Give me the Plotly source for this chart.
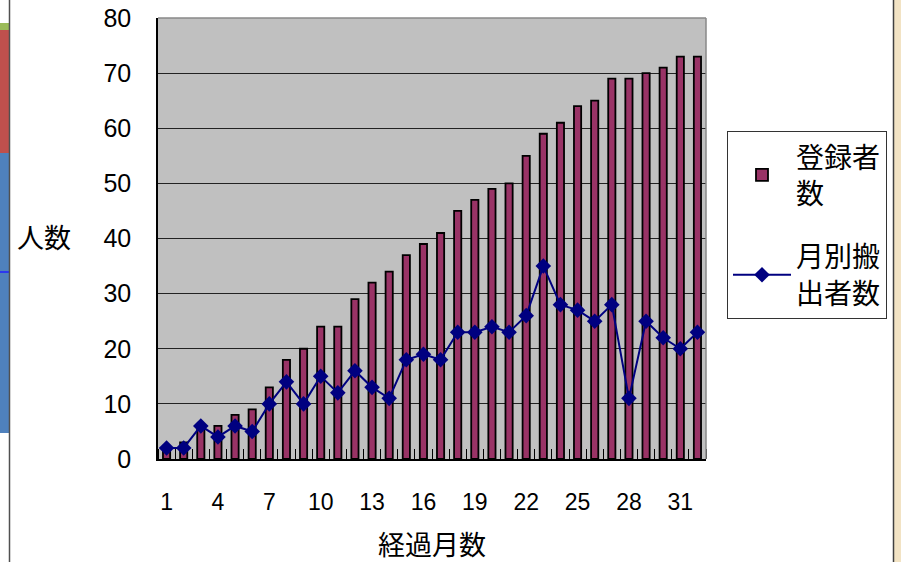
import plotly.graph_objects as go

# ---- data ----
months = list(range(1, 33))
registered = [2, 3, 6, 6, 8, 9, 13, 18, 20, 24, 24, 29, 32, 34, 37, 39,
              41, 45, 47, 49, 50, 55, 59, 61, 64, 65, 69, 69, 70, 71, 73, 73]
monthly_out = [2, 2, 6, 4, 6, 5, 10, 14, 10, 15, 12, 16, 13, 11, 18, 19,
               18, 23, 23, 24, 23, 26, 35, 28, 27, 25, 28, 11, 25, 22, 20, 23]
x_tick_labels = [1, 4, 7, 10, 13, 16, 19, 22, 25, 28, 31]
y_ticks = [0, 10, 20, 30, 40, 50, 60, 70, 80]
series_names = ["登録者<br>数", "月別搬<br>出者数"]

W, H = 901, 562
L, R, T, B = 158, 706, 18, 459
FONT = "Liberation Sans, Noto Sans CJK JP, sans-serif"

def px(x):
    return (x - L) / (R - L)

def py(y):
    return (B - y) / (B - T)

fig = go.Figure()
fig.add_trace(go.Bar(
    x=months, y=registered, name=series_names[0], width=0.42, legendgroup="a",
    marker=dict(color="#993366", line=dict(color="#000000", width=1.8)),
))
fig.add_trace(go.Scatter(
    x=months, y=monthly_out, name=series_names[1], mode="lines+markers", legendgroup="b",
    line=dict(color="#000080", width=2),
    marker=dict(symbol="diamond", size=12, color="#000080"),
))

shapes = []
# background decorations (slide remnants)
shapes.append(dict(type="rect", xref="paper", yref="paper", x0=px(0), x1=px(9),
                   y0=py(30), y1=py(23), fillcolor="#9BBB59", line=dict(width=0), layer="below"))
shapes.append(dict(type="rect", xref="paper", yref="paper", x0=px(0), x1=px(9),
                   y0=py(153), y1=py(30), fillcolor="#C0504D", line=dict(width=0), layer="below"))
shapes.append(dict(type="rect", xref="paper", yref="paper", x0=px(0), x1=px(9),
                   y0=py(433), y1=py(153), fillcolor="#4F81BD", line=dict(width=0), layer="below"))
shapes.append(dict(type="line", xref="paper", yref="paper", x0=px(0), x1=px(9),
                   y0=py(272), y1=py(272), line=dict(color="#2020FF", width=1.5), layer="below"))
shapes.append(dict(type="line", xref="paper", yref="paper", x0=px(9.5), x1=px(9.5),
                   y0=py(0), y1=py(562), line=dict(color="#505050", width=1.5), layer="below"))
shapes.append(dict(type="rect", xref="paper", yref="paper", x0=px(894), x1=px(901),
                   y0=py(562), y1=py(0), fillcolor="#F2E3C4", line=dict(width=0), layer="below"))
shapes.append(dict(type="line", xref="paper", yref="paper", x0=px(893.5), x1=px(893.5),
                   y0=py(0), y1=py(562), line=dict(color="#404040", width=1.5), layer="below"))
# plot border top/right
shapes.append(dict(type="line", xref="paper", yref="paper", x0=0, x1=1, y0=1, y1=1,
                   line=dict(color="#888888", width=1.5)))
shapes.append(dict(type="line", xref="paper", yref="paper", x0=1, x1=1, y0=0, y1=1,
                   line=dict(color="#888888", width=1.5)))

fig.update_layout(
    width=W, height=H,
    margin=dict(l=L, r=W - R, t=T, b=H - B, autoexpand=False),
    paper_bgcolor="white", plot_bgcolor="#C0C0C0",
    font=dict(family=FONT, size=24, color="#000000"),
    shapes=shapes,
    showlegend=True,
    legend=dict(
        xref="container", yref="container",
        x=727 / W, y=1 - 131 / H, xanchor="left", yanchor="top",
        bgcolor="white", bordercolor="#333333", borderwidth=1,
        font=dict(family=FONT, size=28), tracegroupgap=24,
        itemwidth=58,
    ),
    annotations=[
        dict(text="人数", xref="paper", yref="paper", x=px(44), y=py(239),
             xanchor="center", yanchor="middle", showarrow=False,
             font=dict(family=FONT, size=27)),
        dict(text="経過月数", xref="paper", yref="paper", x=px(432), y=py(546),
             xanchor="center", yanchor="middle", showarrow=False,
             font=dict(family=FONT, size=27)),
    ],
)
fig.update_xaxes(
    range=[0.5, 32.5], tickmode="array", tickvals=x_tick_labels,
    ticktext=[str(v) for v in x_tick_labels], ticks="", ticklabelstandoff=22,
    showgrid=False, zeroline=False, automargin=False,
    showline=True, linecolor="#000000", linewidth=1.5,
    minor=dict(tickmode="linear", tick0=0.5, dtick=1, ticks="inside",
               ticklen=10, tickcolor="#000000", tickwidth=1, showgrid=False),
    tickfont=dict(size=23),
)
fig.update_yaxes(
    range=[0, 80], tickmode="array", tickvals=y_ticks,
    ticks="", ticklabelstandoff=20, automargin=False,
    showgrid=True, gridcolor="#222222", gridwidth=1.2, zeroline=False,
    showline=True, linecolor="#000000", linewidth=1.5,
    tickfont=dict(size=25),
)

fig.write_html(
    "out.html",
    config={"displayModeBar": False},
    post_script="document.body.style.margin='0';document.body.style.overflow='hidden';",
)
